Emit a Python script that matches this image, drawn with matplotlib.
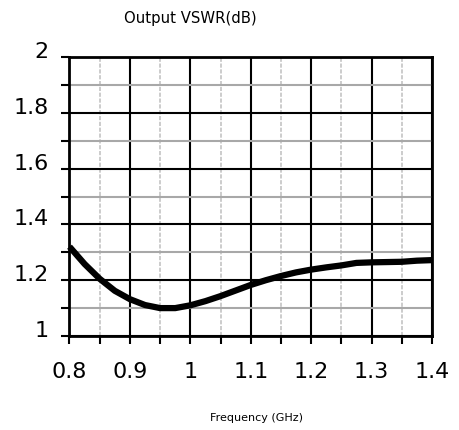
import matplotlib
matplotlib.use("Agg")
import matplotlib.pyplot as plt
from matplotlib.ticker import MultipleLocator, FixedLocator

# Output VSWR vs. frequency
freq_ghz = [0.80, 0.825, 0.85, 0.875, 0.90, 0.925, 0.95, 0.975, 1.00, 1.025,
            1.05, 1.075, 1.10, 1.125, 1.15, 1.175, 1.20, 1.225, 1.25, 1.275,
            1.30, 1.325, 1.35, 1.375, 1.40]
vswr = [1.32, 1.258, 1.205, 1.162, 1.132, 1.111, 1.100, 1.100, 1.110, 1.125,
        1.143, 1.163, 1.183, 1.200, 1.215, 1.228, 1.238, 1.246, 1.253, 1.262,
        1.264, 1.265, 1.266, 1.270, 1.272]

x_ticks = [0.8, 0.9, 1.0, 1.1, 1.2, 1.3, 1.4]
x_labels = ["0.8", "0.9", "1", "1.1", "1.2", "1.3", "1.4"]
y_ticks = [1.0, 1.2, 1.4, 1.6, 1.8, 2.0]
y_labels = ["1", "1.2", "1.4", "1.6", "1.8", "2"]

fig = plt.figure(figsize=(4.59, 4.31), dpi=100)
ax = fig.add_axes([0.1514, 0.2181, 0.7898, 0.6473])

ax.set_xlim(0.8, 1.4)
ax.set_ylim(1.0, 2.0)

ax.xaxis.set_major_locator(FixedLocator(x_ticks))
ax.yaxis.set_major_locator(FixedLocator(y_ticks))
ax.xaxis.set_minor_locator(MultipleLocator(0.05))
ax.yaxis.set_minor_locator(MultipleLocator(0.1))
ax.set_xticklabels(x_labels)
ax.set_yticklabels(y_labels)

# grid: black major lines, grey minor lines (dashed on x)
ax.grid(which="major", axis="both", color="black", linewidth=1.5, linestyle="-")
ax.grid(which="minor", axis="y", color="#a8a8a8", linewidth=1.5, linestyle="-")
ax.grid(which="minor", axis="x", color="#c4c4c4", linewidth=1.2, linestyle=(0, (2.5, 1)))
ax.set_axisbelow(True)

for s in ax.spines.values():
    s.set_linewidth(2.0)
    s.set_color("black")

ax.tick_params(which="both", direction="out", length=6, width=1.5, color="black")
ax.tick_params(axis="y", which="major", labelsize=16, pad=9)
ax.tick_params(axis="x", which="major", labelsize=16, pad=12)

for lbl in ax.get_yticklabels():
    lbl.set_verticalalignment("baseline")

ax.plot(freq_ghz, vswr, color="black", linewidth=4.5, solid_capstyle="butt",
        clip_on=False, zorder=5)

fig.text(190 / 459, 1 - 18 / 431, "Output VSWR(dB)", ha="center", va="center",
         fontsize=10.7)
fig.text(256 / 459, 1 - 418 / 431, "Frequency (GHz)", ha="center", va="center",
         fontsize=8)

fig.savefig("out.png", dpi=100)
